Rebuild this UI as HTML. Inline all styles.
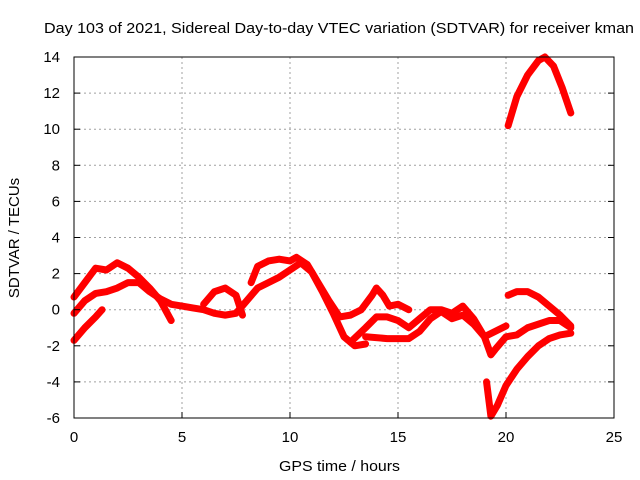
<!DOCTYPE html>
<html><head><meta charset="utf-8"><style>
body{margin:0;background:#fff}
svg{display:block;font-family:"Liberation Sans",sans-serif}
</style></head><body>
<svg id="chart" width="640" height="480" viewBox="0 0 640 480">
<rect x="0" y="0" width="640" height="480" fill="#fff"/>
<text x="44" y="33" font-size="15" textLength="590" lengthAdjust="spacingAndGlyphs">Day 103 of 2021, Sidereal Day-to-day VTEC variation (SDTVAR) for receiver kman</text>
<g id="grid"></g>
<g id="series"></g>
<g id="axes"></g>
<text x="279" y="471" font-size="15" textLength="121" lengthAdjust="spacingAndGlyphs">GPS time / hours</text>
<text x="19" y="238" font-size="15" text-anchor="middle" transform="rotate(-90 19 238)">SDTVAR / TECUs</text>
</svg>
<script>
const xTicks=[0,5,10,15,20,25];
const yTicks=[-6,-4,-2,0,2,4,6,8,10,12,14];
const track1=[[0,0.7],[0.5,1.5],[1,2.3],[1.5,2.2],[2,2.6],[2.5,2.3],[3,1.8],[3.5,1.2],[4,0.5],[4.5,-0.6]];
const track2=[[0,-0.2],[0.5,0.5],[1,0.9],[1.5,1.0],[2,1.2],[2.5,1.5],[3,1.5],[3.5,1.0],[4,0.6],[4.5,0.3],[5,0.2],[5.5,0.1],[6,0.0],[6.5,-0.2],[7,-0.3],[7.5,-0.2],[8,0.5],[8.5,1.2],[9,1.5],[9.5,1.8],[10,2.2],[10.5,2.6],[11,2.1],[11.5,1.0],[12,-0.2],[12.5,-1.5],[13,-2.0],[13.5,-1.9]];
const track3=[[0,-1.7],[0.5,-1.0],[1,-0.4],[1.3,0]];
const track4=[[6,0.3],[6.5,1.0],[7,1.2],[7.5,0.8],[7.8,-0.3]];
const track5=[[8.2,1.5],[8.5,2.4],[9,2.7],[9.5,2.8],[10,2.7],[10.3,2.9],[10.8,2.5],[11.3,1.5],[11.8,0.5],[12.3,-0.4],[12.8,-0.3],[13.3,0],[13.8,0.8],[14,1.2],[14.3,0.8],[14.6,0.2],[15,0.3],[15.5,0]];
const track6=[[12.8,-1.8],[13.5,-1.0],[14,-0.4],[14.5,-0.4],[15,-0.6],[15.5,-1.0],[16,-0.5],[16.5,0],[17,0],[17.5,-0.2],[18,0.2],[18.5,-0.5],[19,-1.5],[19.3,-2.5],[19.5,-2.2],[20,-1.5],[20.5,-1.4],[21,-1.0],[22,-0.6],[22.5,-0.6],[23,-1.0]];
const track7=[[13.5,-1.5],[14.5,-1.6],[15.5,-1.6],[16,-1.2],[16.5,-0.5],[17,-0.1],[17.5,-0.5],[18,-0.3],[18.5,-0.8],[19,-1.5],[19.5,-1.2],[20,-0.9]];
const track8=[[19.1,-4],[19.3,-5.9],[19.6,-5.3],[20,-4.2],[20.5,-3.3],[21,-2.6],[21.5,-2.0],[22,-1.6],[22.5,-1.4],[23,-1.3]];
const track9=[[20.1,0.8],[20.5,1.0],[21,1.0],[21.5,0.7],[22,0.2],[22.5,-0.3],[23,-0.9]];
const track10=[[20.1,10.2],[20.5,11.8],[21,13],[21.5,13.8],[21.8,14],[22.2,13.5],[22.6,12.3],[23,10.9]];
const tracks=[track1,track2,track3,track4,track5,track6,track7,track8,track9,track10];

const X0=74,X1=614,Y0=418,Y1=57,xMin=0,xMax=25,yMin=-6,yMax=14;
const sx=v=>X0+(v-xMin)/(xMax-xMin)*(X1-X0);
const sy=v=>Y0-(v-yMin)/(yMax-yMin)*(Y0-Y1);
const NS='http://www.w3.org/2000/svg';
function mk(tag,attrs,parent){const e=document.createElementNS(NS,tag);for(const k in attrs)e.setAttribute(k,attrs[k]);parent.appendChild(e);return e;}
const grid=document.getElementById('grid'),axes=document.getElementById('axes'),series=document.getElementById('series');
xTicks.forEach(t=>{
  if(t>xMin&&t<xMax){const g=mk('line',{x1:sx(t),x2:sx(t),y1:Y1,y2:Y0,stroke:'#a0a0a0','stroke-dasharray':'2,3'},grid);
  
  }
  const tk=mk('line',{x1:sx(t),x2:sx(t),y1:Y0,y2:Y0-6,stroke:'#000'},axes);
  
  
  const tx=mk('text',{x:sx(t),y:Y0+24,'font-size':15,'text-anchor':'middle'},axes);
  tx.textContent=t;
  
  
});
yTicks.forEach(t=>{
  if(t>yMin&&t<yMax){const g=mk('line',{x1:X0,x2:X1,y1:sy(t),y2:sy(t),stroke:'#a0a0a0','stroke-dasharray':'2,3'},grid);
  
  }
  const tk=mk('line',{x1:X0,x2:X0+6,y1:sy(t),y2:sy(t),stroke:'#000'},axes);
  
  
  const tk2=mk('line',{x1:X1,x2:X1-6,y1:sy(t),y2:sy(t),stroke:'#000'},axes);
  
  
  const tx=mk('text',{x:X0-14,y:sy(t)+5,'font-size':15,'text-anchor':'end'},axes);
  tx.textContent=t;
  
  
});
const border=mk('rect',{x:X0,y:Y1,width:X1-X0,height:Y0-Y1,fill:'none',stroke:'#000'},axes);


tracks.forEach(tr=>{
  const p=mk('polyline',{points:tr.map(d=>sx(d[0])+','+sy(d[1])).join(' '),fill:'none',stroke:'#ff0000','stroke-width':7,'stroke-linejoin':'round','stroke-linecap':'round'},series);
  
  
});
</script>
</body></html>
